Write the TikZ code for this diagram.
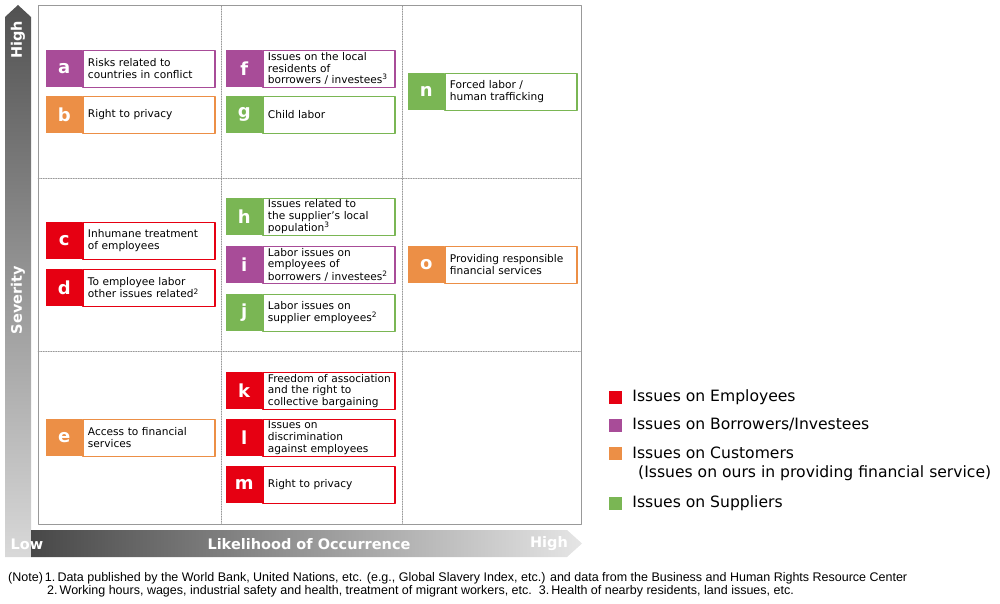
\documentclass[tikz,border=0pt]{standalone}
\usepackage{fontspec}
\setmainfont{DejaVu Sans}
\newfontfamily\notefont{Liberation Sans}
\usetikzlibrary{positioning}
\hyphenpenalty=10000
\definecolor{empred}{RGB}{230,0,18}
\definecolor{borpurple}{RGB}{168,76,152}
\definecolor{cusorange}{RGB}{236,143,70}
\definecolor{supgreen}{RGB}{122,182,84}
\tikzset{
	letterbox/.style={fill=#1, anchor=north west, minimum width=36pt, minimum height=37pt,
		inner sep=0pt, text=white, font=\bfseries\fontsize{18}{18}\selectfont},
	textbox/.style={draw=#1, line width=1.1pt, fill=white, minimum height=37pt, inner ysep=0pt,
		inner xsep=5pt, text width=122pt, align=left, font=\fontsize{10.6}{11.6}\selectfont},
	axislabel/.style={text=white, font=\bfseries\fontsize{14.5}{15}\selectfont, inner sep=0pt},
	legendsq/.style={fill=#1, minimum size=13pt, inner sep=0pt},
	legendtxt/.style={anchor=west, inner sep=0pt, font=\fontsize{15.6}{17}\selectfont},
	notetxt/.style={anchor=west, inner sep=0pt, font=\notefont\fontsize{12.5}{13}\selectfont}
}
% letter square with its text box: name, colour, x, y, letter, text
\newcommand{\issue}[6]{%
	\node[letterbox=#2] (#1) at (#3,#4) {#5};
	\node[textbox=#2, anchor=west] (#1t) at (#1.east) {#6};
}
\begin{document}
\begin{tikzpicture}[x=1pt,y=-1pt,line cap=round,line join=round]
		\useasboundingbox (0,0) rectangle (1000,604);
		% axes
		\shade[top color=black!68, bottom color=black!15] (5,557)--(5,17)--(18,5)--(31,17)--(31,557)--cycle;
		\shade[left color=black!72, right color=black!10] (31,530)--(567,530)--(582,543.5)--(567,557)--(31,557)--cycle;
		\node[axislabel, rotate=90] (sevhigh) at (18,40) {High};
		\node[axislabel, rotate=90] (sev) at (18,300) {Severity};
		\node[axislabel] (low) at (27,544) {Low};
		\node[axislabel] (likely) at (309,544) {Likelihood of Occurrence};
		\node[axislabel] (likhigh) at (549,544) {High};
		% grid
		\draw[black!40, line width=1pt] (38,6) rectangle (581,524);
		\foreach \x in {221,402}
			\draw[black!40, dash pattern=on 1.5pt off 1pt] (\x,6)--(\x,524);
		\foreach \y in {178,351}
			\draw[black!40, dash pattern=on 1.5pt off 1pt] (38,\y)--(581,\y);
		% issues
		\issue{a}{borpurple}{46}{50}{a}{Risks related to\\countries in conflict}
		\issue{b}{cusorange}{46}{96}{b}{Right to privacy}
		\issue{c}{empred}{46}{222}{c}{Inhumane treatment\\of employees}
		\issue{d}{empred}{46}{269}{d}{To employee labor\\other issues related\textsuperscript{2}}
		\issue{e}{cusorange}{46}{419}{e}{Access to financial\\services}
		\issue{f}{borpurple}{226}{50}{f}{Issues on the local\\residents of\\borrowers / investees\textsuperscript{3}}
		\issue{g}{supgreen}{226}{96}{g}{Child labor}
		\issue{h}{supgreen}{226}{198}{h}{Issues related to\\the supplier's local\\population\textsuperscript{3}}
		\issue{i}{borpurple}{226}{246}{i}{Labor issues on\\employees of\\borrowers / investees\textsuperscript{2}}
		\issue{j}{supgreen}{226}{294}{j}{Labor issues on\\supplier employees\textsuperscript{2}}
		\issue{k}{empred}{226}{372}{k}{\mbox{Freedom of association}\\and the right to\\collective bargaining}
		\issue{l}{empred}{226}{419}{l}{Issues on\\discrimination\\against employees}
		\issue{m}{empred}{226}{466}{m}{Right to privacy}
		\issue{n}{supgreen}{408}{73}{n}{Forced labor /\\human trafficking}
		\issue{o}{cusorange}{408}{246}{o}{Providing responsible\\financial services}
		% legend
		\node[legendsq=empred] (lemp) at (615.5,397) {};
		\node[legendtxt, right=10pt of lemp] (lempt) {Issues on Employees};
		\node[legendsq=borpurple] (lbor) at (615.5,425) {};
		\node[legendtxt, right=10pt of lbor] (lbort) {Issues on Borrowers/Investees};
		\node[legendsq=cusorange] (lcus) at (615.5,453) {};
		\node[legendtxt, right=10pt of lcus] (lcust) {Issues on Customers};
		\node[legendtxt] (lcusx) at (638,473) {(Issues on ours in providing financial service)};
		\node[legendsq=supgreen] (lsup) at (615.5,503) {};
		\node[legendtxt, right=10pt of lsup] (lsupt) {Issues on Suppliers};
		% notes
		\node[notetxt] (note1) at (8,578) {(Note)\,1.\,Data published by the World Bank, United Nations, etc. (e.g., Global Slavery Index, etc.) and data from the Business and Human Rights Resource Center};
		\node[notetxt] (note2) at (47,591) {2.\,Working hours, wages, industrial safety and health, treatment of migrant workers, etc.\ \ 3.\,Health of nearby residents, land issues, etc.};
\end{tikzpicture}
\end{document}
